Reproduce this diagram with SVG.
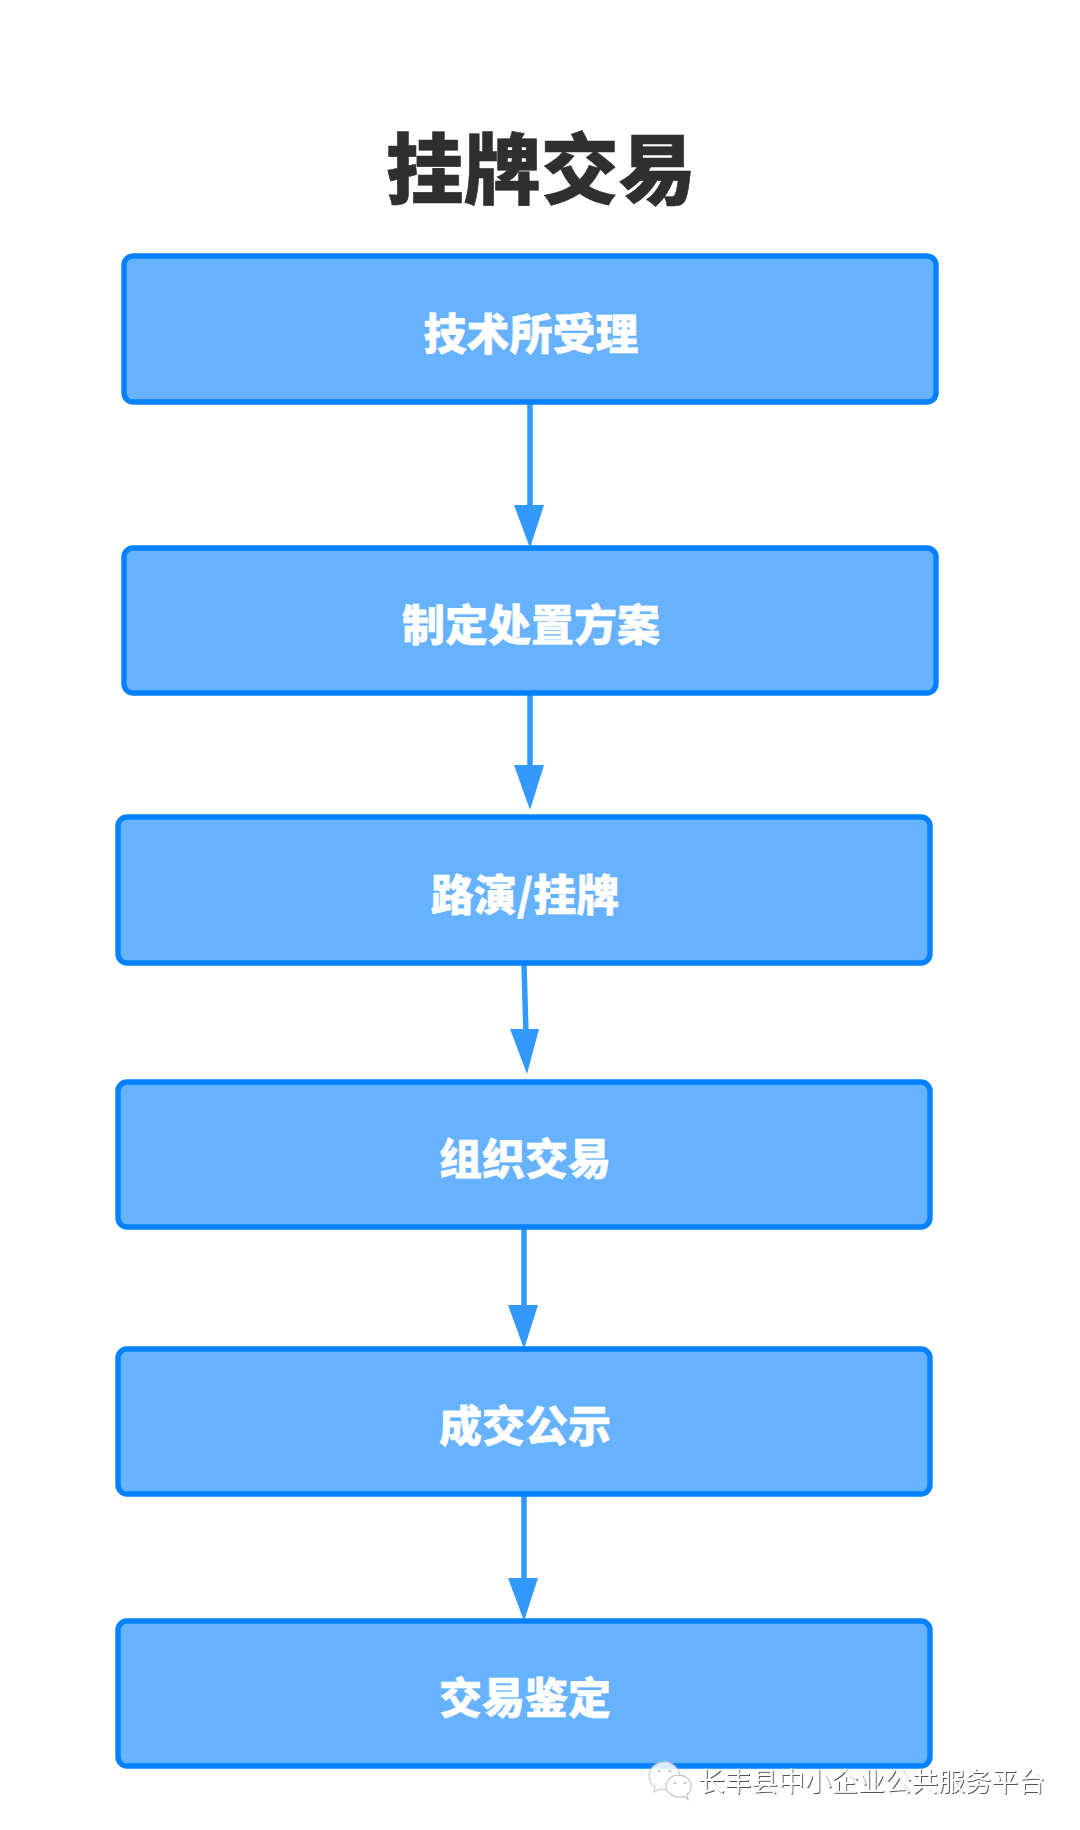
<svg xmlns="http://www.w3.org/2000/svg" width="1080" height="1830" viewBox="0 0 1080 1830">
  <style>
    text { font-family: "Noto Sans CJK SC", "Noto Sans", sans-serif; text-anchor: middle; }
    .title { font-size: 77.5px; font-weight: 900; fill: #2f2f2f; stroke: #2f2f2f; stroke-width: .6; }
    .box { fill: #66b2ff; stroke: #0481ff; stroke-width: 5.4; }
    .label { font-size: 43px; font-weight: 900; fill: #fff; stroke: #fff; stroke-width: .4; }
    .link { fill: none; stroke: #3399ff; stroke-width: 5.5; }
    .head { fill: #3399ff; }
    .mark { font-size: 26.7px; font-weight: 400; fill: #fff; text-anchor: start; }
    .bubble { fill: #fff; stroke: #c4c4c4; stroke-width: 1.2; }
    .eye { fill: #c4c4c4; }
  </style>
  <defs>
    <filter id="emboss" x="-5%" y="-20%" width="110%" height="140%">
      <feDropShadow dx="1" dy="1" stdDeviation="0.5" flood-color="#555"/>
    </filter>
  </defs>
  <rect width="1080" height="1830" fill="#fff"/>
  <text class="title" x="541" y="198">挂牌交易</text>

  <g id="connectors">
    <path class="link" d="M530 403V510"/><path class="head" d="M514 505H544L530 548Z"/>
    <path class="link" d="M530 694V770"/><path class="head" d="M514 765H544L530 810Z"/>
    <path class="link" d="M524 964L526 1035"/><path class="head" d="M510 1029H539L527 1074Z"/>
    <path class="link" d="M524 1228V1310"/><path class="head" d="M508 1305H538L524 1349Z"/>
    <path class="link" d="M524 1495V1585"/><path class="head" d="M508 1578H538L524 1621Z"/>
  </g>

  <g id="node-1"><rect class="box" x="124" y="256" width="812" height="146" rx="9"/><text class="label" x="531" y="350">技术所受理</text></g>
  <g id="node-2"><rect class="box" x="124" y="548" width="812" height="145" rx="9"/><text class="label" x="531" y="641">制定处置方案</text></g>
  <g id="node-3"><rect class="box" x="118" y="817" width="812" height="146" rx="9"/><text class="label" x="525" y="911">路演/挂牌</text></g>
  <g id="node-4"><rect class="box" x="118" y="1082" width="812" height="145" rx="9"/><text class="label" x="525" y="1175">组织交易</text></g>
  <g id="node-5"><rect class="box" x="118" y="1349" width="812" height="145" rx="9"/><text class="label" x="525" y="1442">成交公示</text></g>
  <g id="node-6"><rect class="box" x="118" y="1621" width="812" height="145" rx="9"/><text class="label" x="525" y="1714">交易鉴定</text></g>

  <g id="watermark">
    <path class="bubble" d="M664 1762c-8 0-15 6-15 14 0 5 2 8 6 11l-1 5 6-3c2 .5 3 .6 5 .6 8 0 15-6 15-13 0-8-8-15-16-15z" opacity=".85"/>
    <circle class="eye" cx="659" cy="1771" r="1.3"/><circle class="eye" cx="670" cy="1771" r="1.3"/>
    <path class="bubble" d="M679 1775c-7 0-13 5-13 11s6 11 13 11c2 0 3 0 5-.6l4 3-1-5c3-2 4-5 4-8 0-7-5-11-12-11z"/>
    <circle class="eye" cx="675" cy="1783" r="1.3"/><circle class="eye" cx="685" cy="1783" r="1.3"/>
    <text class="mark" x="698" y="1791" filter="url(#emboss)">长丰县中小企业公共服务平台</text>
  </g>
</svg>
